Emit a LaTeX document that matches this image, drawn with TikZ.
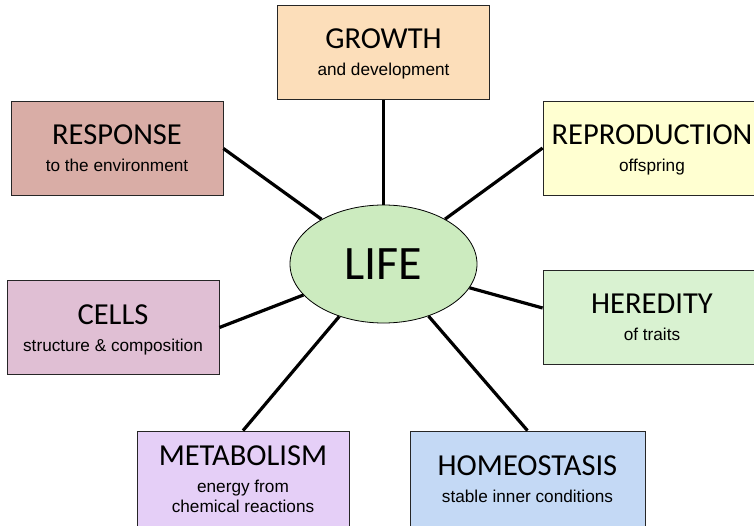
\documentclass[tikz,border=0pt]{standalone}
\usepackage{fontspec}
\newfontfamily\topicfont{Carlito}
\newfontfamily\detailfont{Liberation Sans}
\usepackage{tikz}
\usetikzlibrary{positioning, shapes}
\definecolor{growthc}{rgb}{0.99,0.87,0.73}
\definecolor{responsec}{rgb}{0.85,0.68,0.65}
\definecolor{reproductionc}{rgb}{1.0,1.0,0.82}
\definecolor{cellsc}{rgb}{0.88,0.75,0.83}
\definecolor{heredityc}{rgb}{0.85,0.95,0.82}
\definecolor{metabolismc}{rgb}{0.9,0.81,0.97}
\definecolor{homeostasisc}{rgb}{0.77,0.85,0.96}
\definecolor{lifec}{rgb}{0.8,0.92,0.75}
\newcommand{\topic}[1]{{\topicfont\fontsize{30.5}{30}\selectfont\rule{0pt}{24pt}#1}}
\newcommand{\detail}[1]{{\detailfont\fontsize{17.2}{20}\selectfont #1\rule[-4pt]{0pt}{4pt}}}
\tikzstyle{card}=[%
      rectangle, draw=black!85, line width=0.8pt, minimum width=212pt, minimum height=94pt,
      inner sep=0pt, align=center, font=\detailfont\fontsize{17.2}{20}\selectfont
]
\tikzstyle{hub}=[%
      ellipse, draw=black, line width=0.8pt, fill=lifec, minimum width=187pt, minimum height=118pt,
      inner sep=0pt, font=\topicfont\fontsize{48}{48}\selectfont
]
\tikzstyle{link}=[draw=black, line width=3.2pt]
\begin{document}
\begin{tikzpicture}[x=1pt, y=-1pt,
    every edge/.style=link
  ]
    \clip (0,0) rectangle (754,526);
    \node[hub]                                   (life)         at (383.5,264)      {LIFE};
    \node[card, fill=growthc]                    (growth)       [above = 105pt of life] {\topic{GROWTH}\\[7pt]\detail{and development}};
    \node[card, fill=responsec]                  (response)     at (117,148.5)      {\topic{RESPONSE}\\[7pt]\detail{to the environment}};
    \node[card, fill=reproductionc, minimum width=218pt] (reproduction) at (652,148) {\topic{REPRODUCTION}\\[7pt]\detail{offspring}};
    \node[card, fill=cellsc]                     (cells)        at (113,327.5)      {\topic{CELLS}\\[7pt]\detail{structure \& composition}};
    \node[card, fill=heredityc, minimum width=218pt] (heredity) at (652,317)        {\topic{HEREDITY}\\[7pt]\detail{of traits}};
    \node[card, fill=metabolismc, minimum height=95pt] (metabolism) at (243,478.5)  {\topic{METABOLISM}\\[7pt]\detail{energy from}\\\detail{chemical reactions}};
    \node[card, fill=homeostasisc, minimum width=235pt, minimum height=95pt] (homeostasis) at (527.5,478.5) {\topic{HOMEOSTASIS}\\[7pt]\detail{stable inner conditions}};

    \path (life) edge (growth)
          (life) edge (response.east)
          (life) edge (reproduction.west)
          (life) edge (cells.east)
          (life) edge ([yshift=9pt]heredity.west)
          (life) edge (metabolism.north)
          (life) edge (homeostasis.north)
    ;

  \end{tikzpicture}
\end{document}
